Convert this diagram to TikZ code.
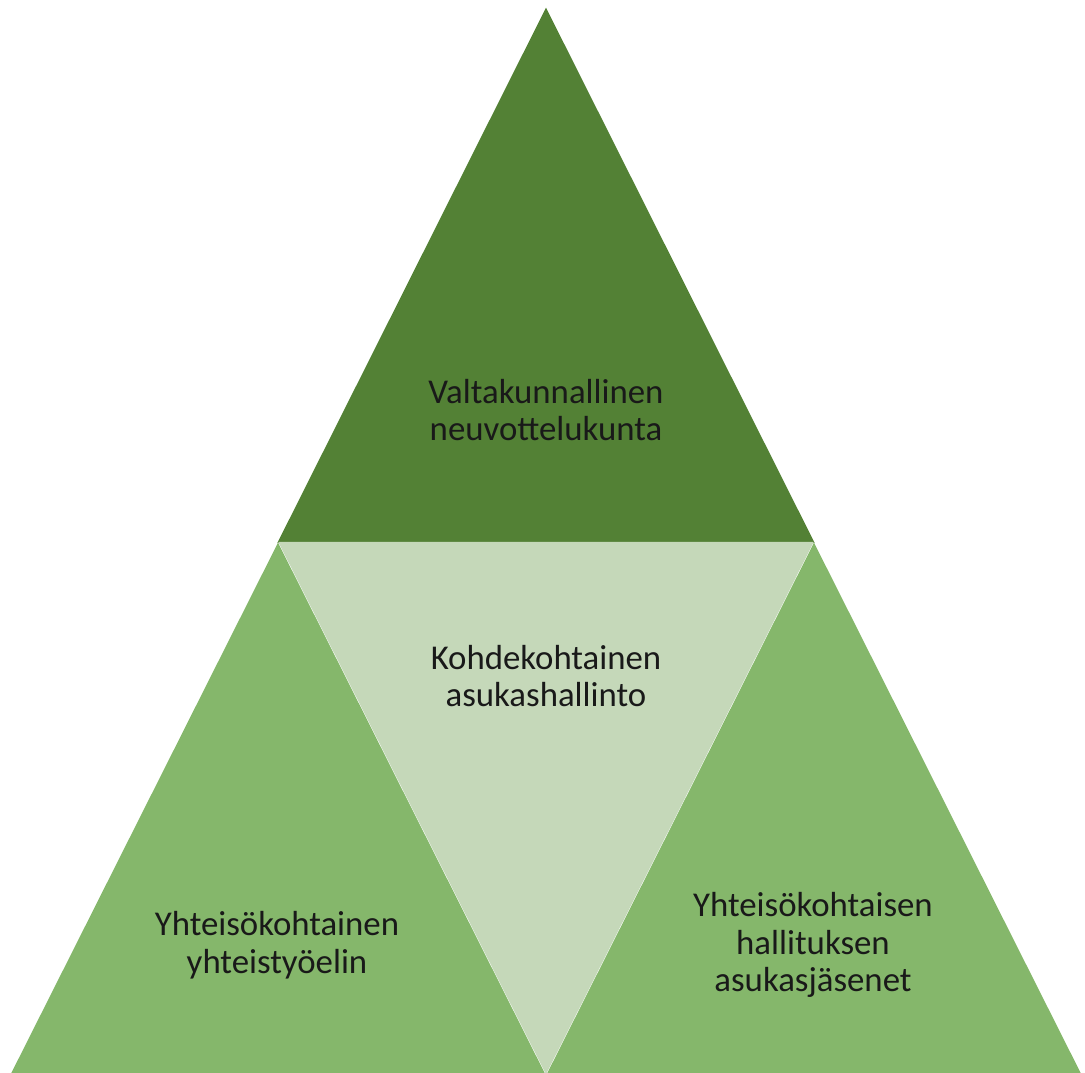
\documentclass[tikz,border=0pt]{standalone}
\usepackage{fontspec}
\setmainfont{Carlito}
\definecolor{darkgreen}{HTML}{538135}
\definecolor{midgreen}{HTML}{85B76B}
\definecolor{palegreen}{HTML}{C5D8B9}
\tikzset{
  tri/.style={draw=white, line width=0.6pt, line join=miter},
  label/.style={align=center, font=\fontsize{9.9}{10.7}\selectfont, text=black!90}
}
\begin{document}
\begin{tikzpicture}[x=0.01cm, y=-0.01cm]
  \useasboundingbox (0,0) rectangle (1085,1072);
  % four triangles
  \fill[tri, darkgreen] (546,10) -- (813,542) -- (279,542) -- cycle;
  \fill[tri, palegreen] (280,543) -- (812,543) -- (546,1072) -- cycle;
  \foreach \name/\a/\l/\r in {lefttri/278/12/544, righttri/814/548/1080}
    \fill[tri, midgreen] (\a,545) -- (\r,1074) -- (\l,1074) -- cycle;
  % labels
  \node[label] (top) at (546,410) {Valtakunnallinen\\neuvottelukunta};
  \node[label] (mid) at (546,676) {Kohdekohtainen\\asukashallinto};
  \node[label] (left) at (277,945) {Yhteisökohtainen\\yhteistyöelin};
  \node[label] (right) at (813,945) {Yhteisökohtaisen\\hallituksen\\asukasjäsenet};
\end{tikzpicture}
\end{document}
